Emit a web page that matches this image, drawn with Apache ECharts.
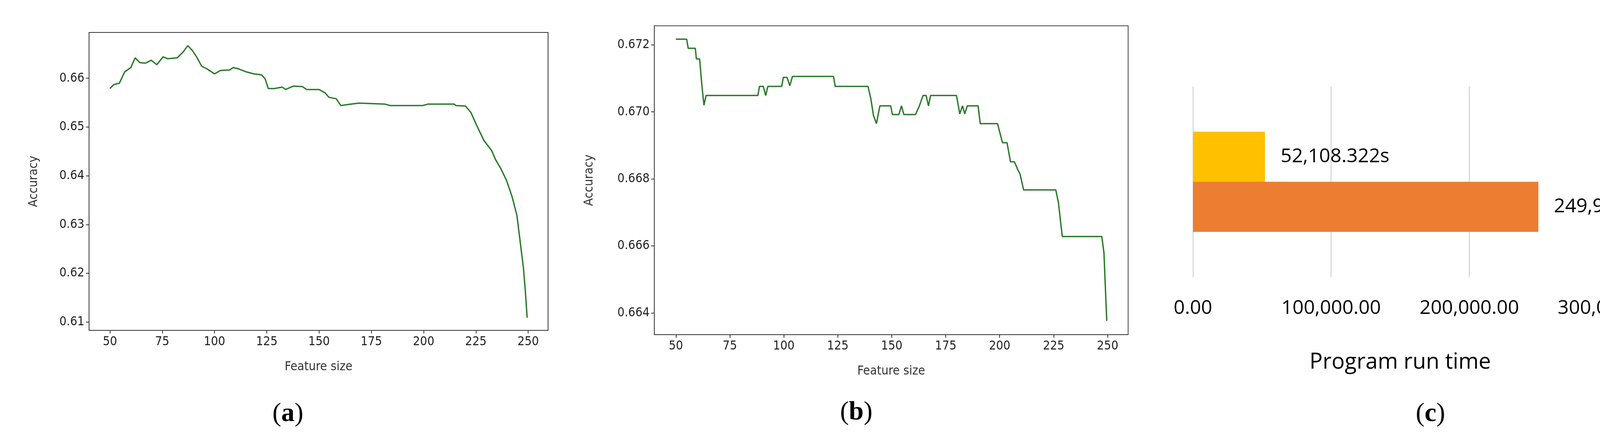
<!DOCTYPE html>
<html>
<head>
<meta charset="utf-8">
<script src="https://cdn.jsdelivr.net/npm/echarts@6/dist/echarts.min.js"></script>
<style>
  html, body { margin: 0; padding: 0; background: #fff; }
  #main { width: 4348px; height: 1128px; }
</style>
</head>
<body>
<div id="main"></div>
<script>
// (a) accuracy vs feature size
const featureA = [50, 51.8, 54.5, 57, 60, 62, 64.3, 67, 69.7, 72.4, 75.4, 77.7, 82.2, 85, 87.2, 89.4, 91.7, 93.8, 96.5, 100,
  102.8, 107.2, 109, 111.7, 115.3, 118.9, 122.5, 124.2, 125.7, 128.7, 132.3, 134, 137.7, 142, 144, 150, 152.9, 154.7, 158.2, 160.4,
  163.6, 169, 181.5, 184.2, 199.4, 202, 214.6, 215.5, 220, 222.6, 225.3, 228.9, 232.5, 234.3, 237, 239.6, 242.3, 244.6, 246.2, 247.7,
  248.6, 249.5];
const accuracyA = [0.6579, 0.6587, 0.659, 0.6613, 0.6622, 0.6642, 0.6632, 0.6631, 0.6637, 0.6628, 0.6644, 0.664, 0.6642, 0.6654, 0.6667, 0.6657, 0.6642, 0.6625, 0.6619, 0.6609,
  0.6616, 0.6617, 0.6622, 0.6619, 0.6613, 0.6609, 0.6607, 0.6599, 0.6579, 0.6579, 0.6582, 0.6577, 0.6584, 0.6583, 0.6577, 0.6577, 0.657, 0.6561, 0.6558, 0.6544,
  0.6546, 0.6549, 0.6547, 0.6544, 0.6544, 0.6547, 0.6547, 0.6544, 0.6543, 0.653, 0.6504, 0.6472, 0.6452, 0.6434, 0.6414, 0.6391, 0.6357, 0.6319, 0.6264, 0.6212,
  0.6166, 0.6109];

// (b) accuracy vs feature size
const featureB = [50, 55, 55.7, 59, 59.5, 61, 62, 63, 64, 88, 88.7, 90.5, 91.6, 92.6, 99, 99.8, 101.5, 102.8, 104, 123,
  123.8, 139, 140.3, 141.5, 142.9, 144.5, 149.5, 150.3, 153.3, 154.5, 155.6, 161, 162.8, 164.5, 165.9, 167, 168, 180, 181.5, 182.8,
  183.8, 185, 190, 191, 199, 201.3, 203.4, 205, 206.8, 208.5, 209.4, 211.1, 226, 227.2, 229, 247.3, 248.3, 249, 249.6];
const accuracyB = [0.67217, 0.67217, 0.6719, 0.6719, 0.67158, 0.67158, 0.67082, 0.6702, 0.67049, 0.67049, 0.67076, 0.67076, 0.67049, 0.67076, 0.67076, 0.67103, 0.67103, 0.67078, 0.67106, 0.67106,
  0.67076, 0.67076, 0.6704, 0.6699, 0.66965, 0.67018, 0.67018, 0.66992, 0.66992, 0.67018, 0.66992, 0.66992, 0.67018, 0.67049, 0.67049, 0.67018, 0.67049, 0.67049, 0.66994, 0.67018,
  0.66994, 0.67018, 0.67018, 0.66965, 0.66965, 0.66908, 0.66908, 0.66851, 0.66851, 0.66826, 0.66815, 0.66767, 0.66767, 0.6673, 0.66628, 0.66628, 0.6658, 0.6647, 0.66376];

const featureTicks = [50, 75, 100, 125, 150, 175, 200, 225, 250];
const accTicksA = [0.61, 0.62, 0.63, 0.64, 0.65, 0.66];
const accTicksB = [0.664, 0.666, 0.668, 0.670, 0.672];

// (c) program run time
const models = ['KNN', 'SVM'];
const runTime = [52108.322, 249975.318];

const chart = echarts.init(document.getElementById('main'));

const mplFont = 'DejaVu Sans Condensed, DejaVu Sans';
const officeFont = 'Open Sans';
const green = '#2b7a2b';

function zip(xs, ys) { return xs.map((x, i) => [x, ys[i]]); }
function fmt(v, d) { return v.toLocaleString('en-US', { minimumFractionDigits: d, maximumFractionDigits: d }); }

function mplX(gridIndex) {
  return {
    type: 'value', gridIndex, min: 40, max: 259.5,
    name: 'Feature size', nameLocation: 'middle', nameGap: 78,
    nameTextStyle: { fontFamily: mplFont, fontSize: 32, color: '#333' },
    axisLine: { show: true, onZero: false, lineStyle: { color: '#333', width: 2 } },
    axisTick: { show: true, length: 8, customValues: featureTicks, lineStyle: { color: '#333', width: 2 } },
    axisLabel: { customValues: featureTicks, margin: 14, fontFamily: mplFont, fontSize: 32, color: '#222' },
    splitLine: { show: false }
  };
}
function mplY(gridIndex, min, max, ticks, digits, gap) {
  return {
    type: 'value', gridIndex, min, max,
    name: 'Accuracy', nameLocation: 'middle', nameGap: gap,
    nameTextStyle: { fontFamily: mplFont, fontSize: 32, color: '#333' },
    axisLine: { show: true, onZero: false, lineStyle: { color: '#333', width: 2 } },
    axisTick: { show: true, length: 8, customValues: ticks, lineStyle: { color: '#333', width: 2 } },
    axisLabel: { customValues: ticks, margin: 12, fontFamily: mplFont, fontSize: 32, color: '#222',
      formatter: v => v.toFixed(digits) },
    splitLine: { show: false }
  };
}

function panelTitle(letter, x, y) {
  return { text: '({a|' + letter + '})', left: x, top: y, textAlign: 'center',
    textStyle: { fontFamily: 'Liberation Serif', fontSize: 68, fontWeight: 'normal', color: '#000',
      rich: { a: { fontFamily: 'Liberation Serif', fontSize: 68, fontWeight: 'bold', color: '#000' } } } };
}

const option = {
  backgroundColor: '#fff',
  animation: false,
  title: [panelTitle('a', 732, 1020), panelTitle('b', 2187, 1016), panelTitle('c', 3657, 1020)],
  legend: {
    data: models, orient: 'vertical', left: 4137, top: 106,
    itemWidth: 33, itemHeight: 32, itemGap: 78, icon: 'rect',
    textStyle: { fontFamily: officeFont, fontSize: 52, color: '#000' }
  },
  grid: [
    { left: 228, top: 83, width: 1175, height: 762, show: true, borderColor: '#333', borderWidth: 2 },
    { left: 1675, top: 66, width: 1213, height: 790, show: true, borderColor: '#444', borderWidth: 2 },
    { left: 3054, top: 221, width: 1061, height: 488 }
  ],
  xAxis: [
    mplX(0),
    mplX(1),
    {
      type: 'value', gridIndex: 2, min: 0, max: 300000, interval: 100000,
      name: 'Program run time', nameLocation: 'middle', nameGap: 190,
      nameTextStyle: { fontFamily: officeFont, fontSize: 56, color: '#000' },
      axisLine: { show: false }, axisTick: { show: false },
      axisLabel: { margin: 55, fontFamily: officeFont, fontSize: 50, color: '#000', formatter: v => fmt(v, 2) },
      splitLine: { lineStyle: { color: '#d9d9d9', width: 3 } }
    }
  ],
  yAxis: [
    mplY(0, 0.6083, 0.6694, accTicksA, 2, 125),
    mplY(1, 0.66335, 0.67257, accTicksB, 3, 150),
    { type: 'category', gridIndex: 2, data: ['Run time'], inverse: true,
      axisLine: { show: false }, axisTick: { show: false }, axisLabel: { show: false } }
  ],
  series: [
    { type: 'line', xAxisIndex: 0, yAxisIndex: 0, data: zip(featureA, accuracyA), showSymbol: false,
      lineStyle: { color: green, width: 3.5 }, itemStyle: { color: green } },
    { type: 'line', xAxisIndex: 1, yAxisIndex: 1, data: zip(featureB, accuracyB), showSymbol: false,
      lineStyle: { color: green, width: 3.5 }, itemStyle: { color: green } }
  ].concat(models.map((m, i) => ({
    type: 'bar', name: m, xAxisIndex: 2, yAxisIndex: 2, data: [runTime[i]],
    barWidth: 128, barGap: '0%',
    itemStyle: { color: i === 0 ? '#FFC000' : '#ED7D31' },
    label: { show: true, position: 'right', distance: 40, fontFamily: officeFont, fontSize: 50, color: '#000',
      formatter: p => fmt(p.value, 3) + 's' }
  })))
};

chart.setOption(option);
</script>
</body>
</html>
